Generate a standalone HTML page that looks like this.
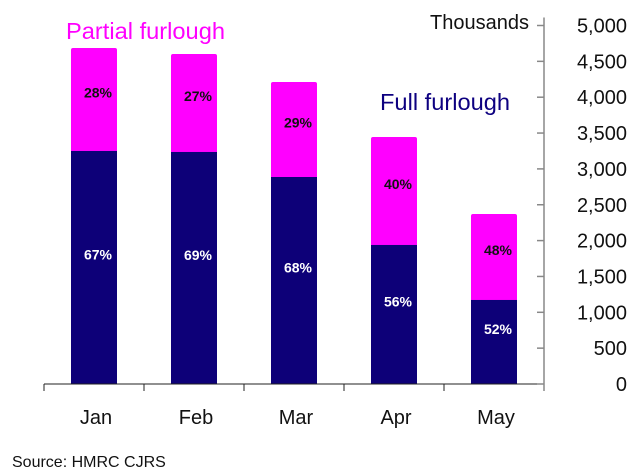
<!DOCTYPE html>
<html><head><meta charset="utf-8"><style>
body{margin:0;background:#fff}
svg{display:block;font-family:"Liberation Sans",Calibri,sans-serif}
</style></head><body>
<svg id="c" width="637" height="474" viewBox="0 0 637 474">
<text x="66" y="39" font-size="23" textLength="159" lengthAdjust="spacingAndGlyphs" fill="#ff00ff">Partial furlough</text>
<text x="380" y="110" font-size="23" textLength="130" lengthAdjust="spacingAndGlyphs" fill="#0d0080">Full furlough</text>
<text x="430" y="29" font-size="20" fill="#111">Thousands</text>
<text x="12" y="467" font-size="16" fill="#111">Source: HMRC CJRS</text>
<g id="g"></g>
</svg>
<script>
const categories=["Jan","Feb","Mar","Apr","May"];
const fullVals=[3250,3236,2887,1939,1172];
const partialVals=[1436,1367,1325,1506,1199];
const fullLabels=["67%","69%","68%","56%","52%"];
const partialLabels=["28%","27%","29%","40%","48%"];
const yTicks=[0,500,1000,1500,2000,2500,3000,3500,4000,4500,5000];
const NS="http://www.w3.org/2000/svg",g=document.getElementById('g');
const y0=384,yMax=5000,yTop=25.5,x0=44,catW=100,barW=46,axisX=544;
const y=v=>y0-(v/yMax)*(y0-yTop);
const xc=i=>x0+catW*(i+0.5);
function mk(t,a,p){const e=document.createElementNS(NS,t);for(const k in a)e.setAttribute(k,a[k]);(p||g).appendChild(e);return e;}
categories.forEach((c,i)=>{
 const tot=fullVals[i]+partialVals[i];
 const p=mk('rect',{x:xc(i)-barW/2,y:y(tot),width:barW,height:y(fullVals[i])-y(tot)+2,rx:2,fill:'#ff00ff'});
 
 
 const f=mk('rect',{x:xc(i)-barW/2,y:y(fullVals[i]),width:barW,height:y(0)-y(fullVals[i]),fill:'#0d0078'});
 
 
 const pl=mk('text',{x:xc(i)+4,y:(y(tot)+y(fullVals[i]))/2-2,'font-size':14,'font-weight':'bold','text-anchor':'middle',fill:'#111'});
 pl.textContent=partialLabels[i];
 
 
 const fl=mk('text',{x:xc(i)+4,y:(y(fullVals[i])+y0)/2-8,'font-size':14,'font-weight':'bold','text-anchor':'middle',fill:'#fff'});
 fl.textContent=fullLabels[i];
 
 
 const cl=mk('text',{x:xc(i)+2,y:424,'font-size':20,'text-anchor':'middle',fill:'#111'});
 cl.textContent=c;
 
 
});
const xa=mk('line',{x1:x0,x2:axisX,y1:y0,y2:y0,stroke:'#222','stroke-width':1});


for(let i=0;i<=categories.length;i++){mk('line',{x1:x0+catW*i,x2:x0+catW*i,y1:y0,y2:y0+7,stroke:'#222'});}
const ya=mk('line',{x1:axisX,x2:axisX,y1:yTop-8,y2:y0+7,stroke:'#888','stroke-width':1.5});


yTicks.forEach(v=>{
 mk('line',{x1:axisX-7,x2:axisX,y1:y(v),y2:y(v),stroke:'#888','stroke-width':1.5});
 const t=mk('text',{x:627,y:y(v)+7,'font-size':20,'text-anchor':'end',fill:'#111'});
 t.textContent=v.toLocaleString('en-US');
 
 
});
</script>
</body></html>
